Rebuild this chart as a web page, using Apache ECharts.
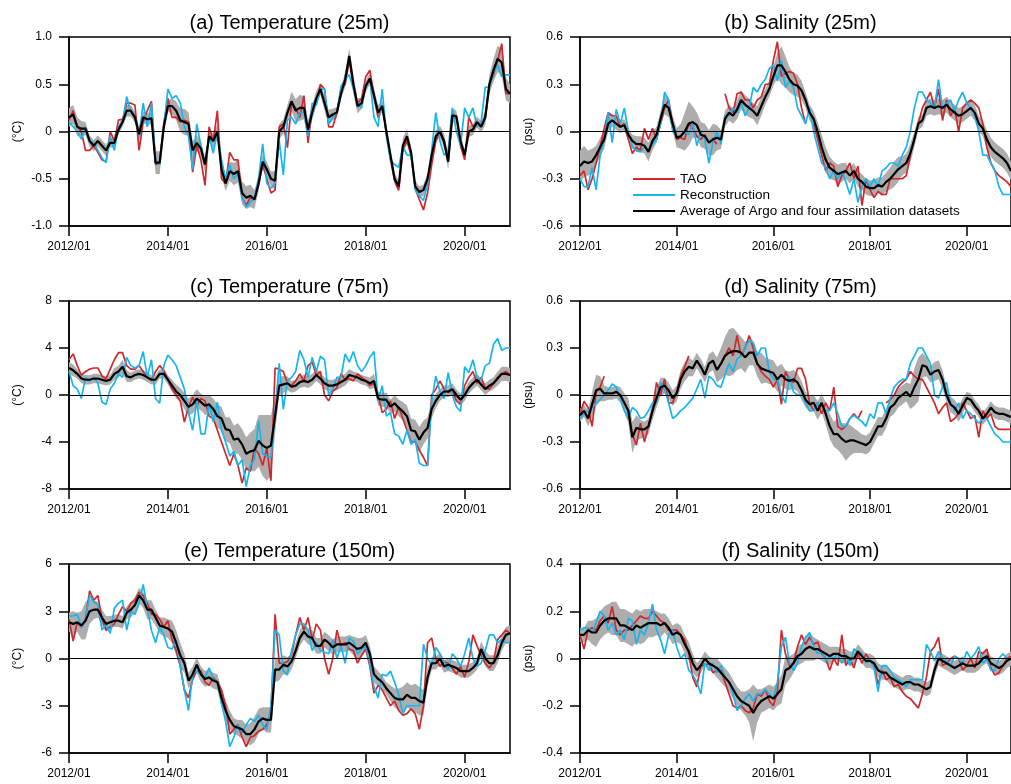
<!DOCTYPE html>
<html>
<head>
<meta charset="utf-8">
<title>TAO / Reconstruction / Argo comparison</title>
<script src="https://cdn.jsdelivr.net/npm/echarts@6.0.0/dist/echarts.min.js"></script>
<style>
  html, body { margin: 0; padding: 0; background: #fff; }
  #chart { width: 1011px; height: 784px; }
</style>
</head>
<body>
<div id="chart"></div>
<script>
  // monthly categories 2012/01 .. 2020/12
  const months = [];
  for (let y = 2012; y <= 2020; y++) {
    for (let m = 1; m <= 12; m++) months.push(y + '/' + (m < 10 ? '0' + m : m));
  }
  const tickLabels = ['2012/01', '2014/01', '2016/01', '2018/01', '2020/01'];

  const seriesNames = ['TAO', 'Reconstruction', 'Average of Argo and four assimilation datasets'];

  // (a) Temperature 25m
  const taoA = [
    0.12, 0.22, 0.05, 0.00, -0.20, -0.20, -0.15, -0.22, -0.30, -0.32, 0.00, -0.10,
    0.12, 0.13, 0.30, 0.30, 0.28, -0.20, 0.10, 0.22, 0.32, -0.35, -0.33, 0.08,
    0.35, 0.15, 0.15, 0.10, 0.12, 0.10, -0.43, -0.15, -0.30, -0.57, 0.05, -0.10,
    0.22, -0.50, -0.55, -0.22, -0.30, -0.30, -0.70, -0.78, -0.70, -0.72, -0.55, -0.35,
    -0.50, -0.65, -0.62, 0.05, 0.08, -0.17, 0.30, 0.25, 0.15, 0.38, -0.12, 0.25,
    0.30, 0.50, 0.45, 0.05, 0.05, 0.20, 0.45, 0.50, 0.75, 0.50, 0.30, 0.35,
    0.58, 0.65, 0.38, 0.15, 0.27, 0.00, -0.30, -0.52, -0.62, -0.20, -0.10, -0.25,
    -0.60, -0.72, -0.83, -0.65, -0.35, -0.10, 0.00, -0.12, -0.32, 0.15, 0.15, -0.15,
    -0.30, 0.15, 0.05, 0.10, 0.05, 0.15, 0.50, 0.60, 0.75, 0.93, 0.40, 0.40
  ];
  const reconA = [
    0.10, 0.05, 0.00, -0.08, 0.05, -0.10, -0.12, -0.20, -0.28, -0.33, -0.05, -0.20,
    0.05, 0.10, 0.37, 0.20, 0.15, -0.05, 0.30, 0.05, 0.30, -0.30, -0.35, 0.05,
    0.45, 0.35, 0.38, 0.30, 0.05, -0.05, -0.40, 0.08, -0.15, -0.35, -0.05, -0.23,
    0.00, -0.30, -0.50, -0.35, -0.50, -0.45, -0.70, -0.80, -0.75, -0.70, -0.50, -0.13,
    -0.55, -0.60, -0.55, -0.10, -0.46, 0.12, 0.15, 0.08, 0.20, 0.20, -0.05, 0.30,
    0.28, 0.45, 0.45, 0.08, 0.15, 0.20, 0.48, 0.55, 0.60, 0.45, 0.30, 0.25,
    0.50, 0.55, 0.15, 0.05, 0.45, -0.05, -0.30, -0.35, -0.38, -0.15, -0.25, -0.25,
    -0.62, -0.68, -0.73, -0.55, -0.20, 0.20, -0.10, -0.25, -0.20, 0.25, 0.00, -0.15,
    0.25, 0.15, 0.25, 0.05, 0.10, 0.47, 0.47, 0.62, 0.70, 0.58, 0.60, 0.60
  ];
  const avgA = [
    0.15, 0.18, 0.05, 0.03, 0.03, -0.10, -0.15, -0.10, -0.15, -0.20, -0.12, -0.12,
    0.02, 0.10, 0.22, 0.22, 0.15, -0.03, 0.15, 0.13, 0.14, -0.33, -0.33, 0.05,
    0.27, 0.27, 0.22, 0.12, 0.10, 0.08, -0.20, -0.12, -0.18, -0.35, -0.05, -0.10,
    0.00, -0.40, -0.55, -0.42, -0.45, -0.42, -0.65, -0.70, -0.68, -0.72, -0.55, -0.32,
    -0.40, -0.50, -0.52, 0.00, 0.05, 0.20, 0.32, 0.22, 0.25, 0.25, 0.02, 0.20,
    0.35, 0.45, 0.30, 0.15, 0.18, 0.20, 0.40, 0.55, 0.80, 0.50, 0.27, 0.30,
    0.48, 0.56, 0.38, 0.20, 0.27, 0.00, -0.25, -0.50, -0.58, -0.15, -0.05, -0.22,
    -0.58, -0.64, -0.62, -0.50, -0.25, -0.05, 0.00, -0.10, -0.32, 0.17, 0.16, -0.10,
    -0.25, 0.00, 0.02, 0.10, 0.05, 0.15, 0.50, 0.65, 0.77, 0.73, 0.45, 0.40
  ];
  const spreadA = [
    0.10, 0.10, 0.10, 0.08, 0.07, 0.06, 0.06, 0.06, 0.06, 0.06, 0.05, 0.05,
    0.05, 0.05, 0.06, 0.06, 0.06, 0.08, 0.06, 0.06, 0.06, 0.12, 0.12, 0.08,
    0.06, 0.08, 0.10, 0.12, 0.14, 0.12, 0.10, 0.08, 0.08, 0.08, 0.06, 0.08,
    0.08, 0.08, 0.08, 0.10, 0.12, 0.12, 0.12, 0.12, 0.12, 0.10, 0.08, 0.08,
    0.08, 0.08, 0.10, 0.08, 0.08, 0.08, 0.10, 0.12, 0.14, 0.12, 0.10, 0.08,
    0.08, 0.06, 0.08, 0.08, 0.06, 0.06, 0.06, 0.08, 0.08, 0.10, 0.08, 0.06,
    0.06, 0.06, 0.08, 0.08, 0.06, 0.06, 0.06, 0.06, 0.06, 0.08, 0.08, 0.06,
    0.06, 0.06, 0.06, 0.06, 0.06, 0.06, 0.06, 0.08, 0.08, 0.08, 0.06, 0.06,
    0.06, 0.06, 0.06, 0.06, 0.06, 0.08, 0.10, 0.12, 0.14, 0.14, 0.12, 0.10
  ];

  // (b) Salinity 25m
  const taoB = [
    -0.28, -0.25, -0.37, -0.30, -0.20, -0.10, 0.02, 0.12, 0.10, 0.10, 0.03, 0.05,
    -0.05, -0.14, -0.10, -0.12, 0.02, -0.05, 0.02, -0.05, 0.05, 0.15, 0.20, 0.05,
    -0.05, -0.04, -0.05, 0.05, 0.02, -0.03, -0.05, -0.02, -0.07, -0.05, -0.08, null,
    0.24, 0.15, 0.12, 0.24, 0.25, 0.20, 0.20, 0.15, 0.20, 0.22, 0.30, 0.30,
    0.45, 0.57, 0.35, 0.37, 0.38, 0.37, 0.30, 0.15, 0.05, null, 0.05, -0.05,
    -0.15, -0.25, -0.20, -0.22, -0.35, -0.28, -0.25, -0.20, -0.30, -0.22, -0.47, -0.30,
    -0.37, -0.42, -0.38, -0.40, -0.40, -0.30, -0.30, -0.30, -0.30, -0.28, -0.15, null,
    0.05, 0.15, 0.20, 0.25, 0.15, 0.27, 0.07, 0.20, 0.10, 0.15, 0.00, 0.15,
    0.18, 0.20, 0.18, 0.15, 0.05, -0.10, -0.20, -0.25, -0.28, -0.30, -0.32, -0.35
  ];
  const reconB = [
    -0.30, -0.35, -0.35, -0.23, -0.37, -0.15, -0.05, 0.12, -0.07, 0.14, 0.05, 0.15,
    0.00, -0.10, -0.12, -0.13, -0.10, -0.12, -0.08, -0.05, 0.05, 0.25, 0.20, 0.00,
    -0.03, -0.03, 0.00, -0.02, 0.05, -0.09, 0.00, -0.05, -0.20, -0.07, 0.00, -0.08,
    0.10, 0.10, 0.15, 0.12, 0.18, 0.10, 0.15, 0.28, 0.25, 0.30, 0.33, 0.40,
    0.42, 0.32, 0.45, 0.28, 0.32, 0.28, 0.15, 0.10, 0.05, 0.15, 0.00, -0.10,
    -0.20, -0.23, -0.30, -0.25, -0.30, -0.25, -0.32, -0.40, -0.30, -0.45, -0.35, -0.30,
    -0.35, -0.30, -0.35, -0.25, -0.23, -0.20, -0.20, -0.22, -0.15, -0.10, 0.00, 0.15,
    0.25, 0.25, 0.20, 0.18, 0.15, 0.33, 0.15, 0.18, 0.20, 0.13, 0.20, 0.25,
    0.18, 0.15, 0.10, 0.00, -0.15, -0.15, -0.20, -0.25, -0.35, -0.40, -0.40, -0.40
  ];
  const avgB = [
    -0.22, -0.19, -0.20, -0.19, -0.15, -0.10, -0.05, 0.05, 0.07, 0.05, 0.03, 0.04,
    -0.02, -0.06, -0.08, -0.08, -0.09, -0.13, -0.06, -0.02, 0.08, 0.17, 0.15, 0.05,
    -0.04, -0.03, 0.00, 0.05, 0.06, 0.04, -0.02, -0.03, -0.07, -0.05, -0.04, -0.05,
    0.08, 0.12, 0.10, 0.14, 0.20, 0.17, 0.15, 0.13, 0.10, 0.16, 0.22, 0.27,
    0.35, 0.42, 0.42, 0.38, 0.33, 0.30, 0.29, 0.26, 0.20, 0.12, 0.08, 0.00,
    -0.10, -0.18, -0.23, -0.25, -0.27, -0.26, -0.25, -0.28, -0.25, -0.30, -0.32, -0.35,
    -0.36, -0.36, -0.34, -0.35, -0.32, -0.30, -0.27, -0.24, -0.22, -0.20, -0.14, -0.05,
    0.05, 0.07, 0.15, 0.16, 0.15, 0.16, 0.15, 0.17, 0.14, 0.12, 0.10, 0.11,
    0.13, 0.15, 0.12, 0.05, 0.02, -0.05, -0.10, -0.13, -0.15, -0.17, -0.20, -0.25
  ];
  const spreadB = [
    0.10, 0.10, 0.08, 0.08, 0.06, 0.06, 0.06, 0.05, 0.04, 0.04, 0.04, 0.04,
    0.04, 0.04, 0.05, 0.05, 0.05, 0.06, 0.06, 0.05, 0.05, 0.06, 0.06, 0.05,
    0.06, 0.08, 0.12, 0.14, 0.10, 0.08, 0.08, 0.08, 0.08, 0.10, 0.08, 0.06,
    0.05, 0.05, 0.05, 0.06, 0.06, 0.06, 0.06, 0.05, 0.06, 0.06, 0.05, 0.05,
    0.06, 0.08, 0.12, 0.10, 0.08, 0.07, 0.07, 0.06, 0.05, 0.05, 0.05, 0.06,
    0.08, 0.08, 0.07, 0.06, 0.06, 0.06, 0.05, 0.05, 0.05, 0.05, 0.05, 0.05,
    0.05, 0.05, 0.05, 0.06, 0.06, 0.07, 0.08, 0.08, 0.06, 0.06, 0.06, 0.05,
    0.04, 0.04, 0.05, 0.05, 0.05, 0.05, 0.05, 0.05, 0.05, 0.05, 0.05, 0.05,
    0.05, 0.05, 0.05, 0.05, 0.05, 0.06, 0.06, 0.06, 0.06, 0.06, 0.06, 0.06
  ];

  // (c) Temperature 75m
  const taoC = [
    3.0, 3.5, 2.5, 1.7, 2.0, 2.2, 2.3, 2.3, 1.6, 1.4, 2.2, 3.0,
    3.6, 3.6, 2.5, 2.2, 2.2, 2.5, 2.0, 1.5, 1.3, 2.0, 2.5, 2.1,
    1.3, 0.5, 0.0, -0.5, -2.3, -1.0, -0.2, -0.9, -0.3, -0.5, -1.8, -2.0,
    -3.0, -4.0, -5.0, -6.0, -5.0, -6.0, -7.5, -6.2, -6.5, -4.5, -5.0, -6.0,
    -4.5, -7.3, 2.3, 2.2, 2.0, 1.0, 0.8, 1.2, 1.8, 1.2, 2.5, 2.8,
    1.7, 2.0, 0.0, -0.5, 0.3, 0.6, 1.8, 1.3, 1.4, 1.2, 1.8, 1.5,
    1.2, 0.8, 1.0, 0.0, -1.5, -1.2, -0.5, -2.0, -1.0, -2.0, -3.0, -4.0,
    -4.0, -4.7, -5.3, -6.0, 0.0, 0.5, 1.2, 0.5, 0.2, 0.4, -0.5, -0.8,
    0.8, 1.5, 2.0, 1.0, 1.5, 0.6, 0.5, 1.0, 1.5, 1.8, 2.0, 1.7
  ];
  const reconC = [
    2.0, 0.8, 0.5, -0.3, 1.5, 1.2, 1.5, 1.0, -0.6, -0.8, 0.5, 1.0,
    1.8, 1.5, 3.2, 2.5, 2.3, 2.5, 3.7, 1.5, 3.0, -0.3, -0.7, 2.5,
    3.4, 3.0, 2.5, 1.5, 0.5, -1.5, -3.0, -0.5, -3.3, -3.3, -0.7, -2.3,
    -0.6, -3.0, -4.0, -5.2, -4.8, -6.0, -5.5, -7.8, -6.0, -5.5, -2.2, -5.0,
    -5.2, -5.3, -1.5, 2.7, -1.2, 1.2, 1.5, 2.0, 3.8, 3.0, 1.5, 3.2,
    2.0, 3.3, 3.0, 0.0, 0.5, 1.5, 1.5, 3.5, 2.8, 3.7, 2.5, 2.0,
    2.5, 3.2, 3.7, -0.5, 0.8, -1.8, -1.5, -3.3, -3.5, -4.2, -3.0, -4.2,
    -3.8, -5.8, -6.0, -6.0, -0.5, 1.6, 0.3, -0.3, 1.9, 0.0, -1.0, -1.4,
    2.4, 1.9, 3.0, 1.5, 1.3, 2.5, 2.7, 4.3, 4.8, 3.8, 4.0, 4.0
  ];
  const avgC = [
    2.3, 2.1, 1.8, 1.4, 1.3, 1.3, 1.4, 1.4, 1.3, 1.2, 1.3, 1.8,
    2.0, 2.4, 1.6, 1.5, 1.7, 1.8, 1.7, 1.5, 1.3, 1.3, 1.8, 1.8,
    1.3, 0.8, 0.3, 0.0, -0.5, -1.0, -0.8, -0.3, -0.6, -0.9, -0.8, -1.2,
    -1.8, -2.0, -2.9, -3.0, -3.8, -3.7, -4.2, -5.0, -4.8, -4.7, -3.9, -4.3,
    -4.5, -4.3, -1.8, 0.8, 0.9, 1.0, 0.7, 0.8, 1.1, 1.2, 1.1, 1.3,
    1.7, 1.4, 1.0, 0.8, 0.8, 0.9, 1.1, 1.3, 1.7, 1.6, 1.5, 1.3,
    1.2, 1.0, 1.2, -0.3, -0.4, -0.4, -1.0, -0.7, -1.1, -1.4, -1.8, -3.0,
    -3.1, -3.8, -3.2, -2.8, -1.2, -0.5, 0.0, 0.3, 0.3, 0.5, 0.0, -0.4,
    0.0, 0.6, 1.0, 1.3, 0.9, 0.5, 0.8, 1.0, 1.4, 1.8, 1.8, 1.7
  ];
  const spreadC = [
    0.5, 0.5, 0.4, 0.4, 0.4, 0.4, 0.4, 0.4, 0.4, 0.4, 0.4, 0.5,
    0.5, 0.6, 0.5, 0.4, 0.4, 0.4, 0.4, 0.4, 0.4, 0.4, 0.4, 0.4,
    0.4, 0.5, 0.6, 0.6, 0.7, 0.7, 0.8, 0.8, 0.7, 0.8, 0.8, 0.9,
    1.0, 1.0, 1.0, 1.1, 1.2, 1.3, 1.3, 1.4, 1.6, 1.8, 2.2, 2.6,
    2.8, 2.6, 1.5, 0.8, 0.7, 0.6, 0.5, 0.5, 0.5, 0.5, 0.5, 0.5,
    0.5, 0.5, 0.5, 0.5, 0.5, 0.5, 0.5, 0.5, 0.5, 0.4, 0.4, 0.4,
    0.4, 0.5, 0.6, 0.6, 0.6, 0.6, 0.6, 0.7, 0.7, 0.8, 0.9, 1.0,
    1.0, 1.1, 1.0, 0.9, 0.8, 0.6, 0.5, 0.5, 0.5, 0.5, 0.5, 0.5,
    0.5, 0.5, 0.5, 0.5, 0.5, 0.5, 0.5, 0.5, 0.6, 0.6, 0.6, 0.6
  ];

  // (d) Salinity 75m
  const taoD = [
    -0.12, -0.04, -0.08, -0.20, 0.02, 0.05, 0.12, null, null, null, null, null,
    -0.10, -0.25, -0.32, -0.18, -0.30, -0.20, -0.10, 0.08, 0.00, 0.10, -0.05, -0.05,
    0.02, 0.12, 0.18, 0.25, null, null, null, null, null, null, null, 0.20,
    0.25, 0.30, 0.25, 0.38, 0.25, 0.30, 0.38, 0.30, 0.20, 0.15, 0.12, 0.10,
    0.05, 0.10, -0.06, 0.15, 0.10, 0.08, 0.17, 0.17, 0.10, -0.05, -0.10, -0.05,
    -0.12, -0.05, -0.10, 0.05, -0.20, -0.22, -0.20, -0.15, -0.12, -0.15, -0.10, null,
    null, null, null, null, -0.05, -0.03, 0.00, 0.05, 0.08, 0.10, 0.15, 0.12,
    0.10, 0.10, 0.05, 0.00, -0.05, -0.12, -0.08, -0.05, -0.17, -0.15, -0.12, -0.05,
    -0.10, -0.15, -0.13, -0.27, -0.10, -0.15, -0.12, -0.20, -0.22, -0.22, -0.22, -0.22
  ];
  const reconD = [
    -0.15, -0.12, -0.10, -0.08, -0.05, -0.03, 0.00, 0.03, 0.07, 0.05, -0.02, -0.10,
    -0.15, -0.08, -0.10, -0.15, -0.14, -0.10, -0.05, -0.05, 0.08, 0.04, -0.05, -0.15,
    -0.13, -0.10, -0.08, -0.05, -0.02, 0.04, 0.10, -0.02, 0.12, 0.10, 0.06, 0.05,
    0.13, 0.20, 0.15, 0.23, 0.25, 0.30, 0.35, 0.33, 0.25, 0.30, 0.30, 0.15,
    0.10, 0.10, 0.00, -0.05, 0.12, 0.02, 0.00, 0.00, -0.05, -0.10, -0.10, -0.05,
    -0.07, -0.10, -0.10, -0.05, -0.12, -0.20, -0.20, -0.15, -0.13, -0.15, -0.17, -0.20,
    -0.12, -0.15, -0.05, -0.05, -0.12, -0.02, 0.05, 0.08, 0.10, 0.10, 0.20, 0.25,
    0.30, 0.30, 0.25, 0.20, 0.00, -0.02, 0.05, 0.08, -0.05, -0.10, -0.05, -0.15,
    -0.10, -0.12, -0.15, -0.18, -0.15, -0.15, -0.20, -0.25, -0.27, -0.30, -0.30, -0.30
  ];
  const avgD = [
    -0.13, -0.10, -0.15, -0.06, 0.03, 0.04, 0.01, 0.01, 0.01, 0.02, 0.00, -0.05,
    -0.10, -0.27, -0.21, -0.22, -0.22, -0.20, -0.10, -0.02, 0.05, 0.06, 0.03, -0.02,
    0.01, 0.10, 0.15, 0.18, 0.17, 0.22, 0.18, 0.13, 0.20, 0.22, 0.16, 0.20,
    0.25, 0.27, 0.28, 0.28, 0.27, 0.24, 0.27, 0.27, 0.20, 0.17, 0.16, 0.15,
    0.14, 0.10, 0.13, 0.10, 0.09, 0.10, 0.08, 0.03, -0.03, -0.06, -0.05, -0.10,
    -0.05, -0.12, -0.20, -0.25, -0.25, -0.28, -0.30, -0.29, -0.29, -0.30, -0.31, -0.32,
    -0.30, -0.25, -0.20, -0.20, -0.15, -0.08, -0.06, -0.02, 0.00, 0.02, -0.01, 0.05,
    0.10, 0.19, 0.18, 0.13, 0.15, 0.16, 0.10, 0.00, -0.06, -0.08, -0.12, -0.07,
    -0.02, -0.03, -0.07, -0.10, -0.15, -0.12, -0.08, -0.11, -0.12, -0.12, -0.13, -0.14
  ];
  const spreadD = [
    0.04, 0.04, 0.05, 0.08, 0.10, 0.08, 0.05, 0.04, 0.04, 0.04, 0.05, 0.06,
    0.08, 0.10, 0.08, 0.06, 0.05, 0.05, 0.06, 0.06, 0.06, 0.05, 0.05, 0.05,
    0.05, 0.06, 0.06, 0.06, 0.05, 0.05, 0.05, 0.05, 0.06, 0.06, 0.08, 0.10,
    0.12, 0.15, 0.15, 0.12, 0.10, 0.10, 0.08, 0.08, 0.08, 0.10, 0.08, 0.08,
    0.08, 0.08, 0.07, 0.06, 0.06, 0.06, 0.06, 0.06, 0.05, 0.05, 0.05, 0.06,
    0.06, 0.07, 0.08, 0.08, 0.10, 0.10, 0.12, 0.10, 0.08, 0.07, 0.06, 0.06,
    0.06, 0.06, 0.06, 0.06, 0.06, 0.06, 0.06, 0.06, 0.06, 0.06, 0.08, 0.12,
    0.14, 0.08, 0.06, 0.05, 0.06, 0.06, 0.06, 0.05, 0.05, 0.05, 0.05, 0.05,
    0.04, 0.04, 0.04, 0.04, 0.04, 0.04, 0.04, 0.04, 0.04, 0.04, 0.04, 0.04
  ];

  // (e) Temperature 150m
  const taoE = [
    2.5, 1.1, 2.3, 2.0, 2.5, 4.3, 3.7, 4.0, 2.5, 1.8, 2.0, 2.2,
    2.8, 3.3, 3.0, 3.5, 3.7, 4.2, 4.0, 3.5, 2.8, 2.8, 2.5, 2.0,
    2.4, 1.2, 0.5, -0.5, -2.0, -2.5, -1.3, -0.8, -0.8, -1.5, -1.7, -1.2,
    -1.5, -2.0, -3.0, -4.8, -4.5, -4.2, -5.0, -5.6, -5.0, -4.9, -4.6, -4.5,
    -4.2, -3.5, 2.8, -0.3, -0.3, -0.2, 0.3, 1.5, 2.6, 1.8, 2.6, 1.2,
    2.2, 1.8, 0.0, -1.0, 0.0, 1.8, 0.8, 1.0, 0.6, 0.5, -0.3, 0.2,
    0.6, -0.5, -2.2, -1.7, -2.0, -2.5, -3.0, -2.7, -3.3, -3.6, -3.5, -3.2,
    -3.5, -4.5, -3.0, 1.0, 1.3, 0.0, -0.5, -0.2, -0.3, -0.6, -1.0, -0.5,
    -1.2, -0.2, 1.5, 0.8, 0.2, -0.3, -0.6, -0.2, 1.2, 1.5, 1.8, 1.6
  ];
  const reconE = [
    2.7, 2.7, 2.8, 2.0, 2.5, 4.0, 3.6, 3.4, 1.8, 2.2, 1.6, 3.2,
    3.5, 3.7, 1.8, 3.0, 2.8, 3.5, 4.7, 3.2, 1.8, 1.0, 2.0, 1.5,
    0.7, 0.6, 1.2, -0.5, -2.0, -3.3, -1.0, -0.8, -1.0, -1.2, -0.6, -1.3,
    -1.5, -2.8, -4.0, -5.6, -5.0, -4.2, -4.7, -4.2, -3.8, -4.0, -3.6, -4.2,
    -4.5, -3.0, 1.8, 1.5, -0.8, -1.0, 0.5, 1.5, 2.2, 2.2, 1.8, 0.5,
    1.0, 0.5, 0.4, 0.3, 1.2, 0.0, 0.8, -0.3, 1.3, 1.1, 0.3, 0.6,
    0.8, -0.3, -1.8, -2.5, -1.0, -1.1, -0.8, -1.5, -2.3, -3.5, -3.0, -3.0,
    -3.0, -3.0, 0.9, 0.0, -0.4, 0.7, 0.3, -0.2, -0.7, 0.3, 0.0, -0.5,
    0.3, 1.3, 0.0, -0.5, -0.3, 0.5, 1.5, 1.5, 1.0, 1.2, 1.0, 1.0
  ];
  const avgE = [
    2.3, 2.2, 2.3, 2.1, 2.4, 3.0, 3.1, 3.1, 2.6, 2.2, 2.3, 2.4,
    2.4, 2.3, 2.9, 3.1, 3.4, 4.0, 3.7, 3.1, 3.1, 2.6, 2.1, 2.0,
    1.9, 1.7, 1.0, 0.2, -0.3, -1.4, -1.0, -0.4, -1.0, -1.3, -1.2, -1.4,
    -1.5, -2.5, -3.3, -3.9, -4.3, -4.4, -4.5, -4.8, -4.8, -4.5, -4.0, -3.8,
    -3.9, -3.9, -0.7, -0.7, -0.4, -0.5, -0.2, 0.5, 1.3, 1.7, 1.4, 1.3,
    0.8, 0.8, 1.2, 1.0, 0.7, 0.9, 0.9, 0.9, 1.0, 0.8, 0.6, 0.7,
    1.0, 0.3, -1.0, -1.3, -1.5, -1.9, -2.2, -2.5, -2.6, -2.6, -2.3, -2.5,
    -2.5, -2.7, -2.8, -1.2, -0.3, -0.3, 0.0, -0.5, -0.4, -0.5, -0.6, -0.8,
    -0.8, -0.8, -0.6, -0.3, 0.6, 0.0, -0.3, -0.3, 0.2, 1.0, 1.5, 1.6
  ];
  const spreadE = [
    0.6, 0.8, 0.6, 0.9, 1.2, 0.8, 0.6, 0.5, 0.5, 0.5, 0.4, 0.4,
    0.4, 0.4, 0.4, 0.5, 0.5, 0.5, 0.5, 0.6, 0.6, 0.5, 0.5, 0.6,
    0.6, 0.7, 0.8, 0.8, 0.6, 0.5, 0.5, 0.5, 0.5, 0.5, 0.5, 0.5,
    0.5, 0.6, 0.6, 0.6, 0.5, 0.5, 0.6, 0.6, 0.7, 0.8, 0.8, 0.7,
    0.8, 0.8, 0.8, 0.7, 0.6, 0.6, 0.5, 0.5, 0.5, 0.5, 0.5, 0.5,
    0.5, 0.5, 0.5, 0.5, 0.5, 0.5, 0.5, 0.5, 0.5, 0.6, 0.7, 0.6,
    0.5, 0.5, 0.5, 0.5, 0.4, 0.4, 0.5, 0.6, 0.7, 0.8, 0.8, 0.8,
    0.9, 0.9, 0.8, 0.6, 0.4, 0.4, 0.4, 0.4, 0.4, 0.4, 0.4, 0.4,
    0.4, 0.4, 0.4, 0.4, 0.5, 0.5, 0.5, 0.5, 0.5, 0.5, 0.5, 0.5
  ];

  // (f) Salinity 150m
  const taoF = [
    0.10, 0.04, 0.12, 0.13, 0.12, 0.16, 0.18, 0.15, 0.22, 0.12, 0.10, 0.12,
    0.12, 0.14, 0.16, 0.18, 0.17, 0.17, 0.20, 0.18, 0.16, 0.15, 0.12, 0.12,
    0.12, 0.10, 0.08, 0.02, -0.08, -0.12, -0.03, -0.03, -0.02, -0.06, -0.05, -0.05,
    -0.10, -0.15, -0.20, -0.21, -0.20, -0.22, -0.23, -0.21, -0.15, -0.16, -0.13, -0.18,
    -0.20, -0.14, 0.12, 0.02, -0.03, -0.02, 0.05, 0.10, 0.06, 0.09, 0.06, 0.07,
    0.02, 0.00, -0.05, 0.00, -0.03, 0.10, -0.03, 0.00, -0.04, 0.02, -0.02, 0.02,
    -0.01, -0.03, -0.11, -0.05, -0.09, -0.08, -0.12, -0.11, -0.14, -0.16, -0.17, -0.19,
    -0.21, -0.15, -0.08, 0.03, 0.05, 0.09, -0.03, -0.02, 0.00, 0.01, 0.00, -0.05,
    -0.03, 0.00, -0.04, 0.03, 0.02, 0.04, -0.04, -0.07, -0.06, -0.03, 0.00, 0.01
  ];
  const reconF = [
    0.12, 0.13, 0.13, 0.11, 0.15, 0.20, 0.18, 0.12, 0.15, 0.10, 0.12, 0.08,
    0.17, 0.16, 0.06, 0.12, 0.10, 0.15, 0.23, 0.12, 0.08, 0.02, 0.10, 0.12,
    0.05, 0.00, 0.02, -0.05, -0.07, -0.10, -0.15, -0.02, -0.05, -0.02, -0.06, -0.03,
    -0.08, -0.10, -0.15, -0.22, -0.20, -0.17, -0.15, -0.18, -0.15, -0.15, -0.13, -0.15,
    -0.17, -0.10, 0.05, 0.09, -0.02, -0.05, -0.02, 0.05, 0.09, 0.11, 0.05, 0.02,
    0.03, -0.01, 0.01, 0.00, 0.02, -0.02, 0.02, -0.03, 0.04, 0.03, 0.02, -0.02,
    0.00, -0.04, -0.14, -0.03, -0.03, -0.05, -0.08, -0.09, -0.10, -0.12, -0.09, -0.09,
    -0.09, -0.09, 0.06, 0.03, -0.01, 0.03, 0.00, -0.01, -0.03, 0.01, 0.00, -0.02,
    0.03, 0.00, 0.02, 0.05, -0.02, 0.00, -0.05, -0.05, 0.00, 0.02, 0.00, 0.00
  ];
  const avgF = [
    0.10, 0.10, 0.12, 0.11, 0.11, 0.14, 0.16, 0.17, 0.17, 0.17, 0.14, 0.14,
    0.13, 0.12, 0.14, 0.13, 0.14, 0.15, 0.15, 0.15, 0.14, 0.15, 0.13, 0.10,
    0.11, 0.10, 0.06, 0.03, -0.02, -0.05, -0.03, 0.00, -0.02, -0.03, -0.04, -0.06,
    -0.08, -0.10, -0.13, -0.16, -0.18, -0.19, -0.20, -0.23, -0.20, -0.18, -0.17, -0.16,
    -0.17, -0.15, -0.13, -0.05, -0.04, -0.02, 0.01, 0.02, 0.04, 0.05, 0.04, 0.04,
    0.03, 0.02, 0.01, 0.02, 0.02, 0.01, 0.01, 0.00, 0.00, 0.03, 0.01, -0.01,
    -0.01, -0.02, -0.05, -0.06, -0.06, -0.08, -0.09, -0.10, -0.11, -0.10, -0.10, -0.11,
    -0.11, -0.12, -0.13, -0.12, -0.05, 0.00, -0.01, -0.02, -0.03, -0.04, -0.03, -0.02,
    -0.03, -0.03, -0.03, -0.02, 0.00, 0.01, -0.02, -0.03, -0.04, -0.03, -0.01, 0.00
  ];
  const spreadF = [
    0.03, 0.03, 0.04, 0.05, 0.06, 0.06, 0.06, 0.06, 0.07, 0.07, 0.07, 0.07,
    0.07, 0.07, 0.07, 0.07, 0.07, 0.06, 0.06, 0.05, 0.05, 0.04, 0.04, 0.04,
    0.04, 0.04, 0.04, 0.04, 0.04, 0.03, 0.03, 0.03, 0.03, 0.03, 0.04, 0.04,
    0.04, 0.04, 0.04, 0.04, 0.04, 0.05, 0.07, 0.12, 0.07, 0.05, 0.05, 0.05,
    0.05, 0.05, 0.06, 0.06, 0.05, 0.04, 0.04, 0.04, 0.05, 0.06, 0.05, 0.04,
    0.04, 0.04, 0.04, 0.03, 0.03, 0.03, 0.03, 0.03, 0.03, 0.03, 0.03, 0.03,
    0.03, 0.03, 0.03, 0.03, 0.03, 0.03, 0.03, 0.03, 0.03, 0.03, 0.03, 0.03,
    0.03, 0.03, 0.03, 0.03, 0.03, 0.03, 0.03, 0.03, 0.03, 0.03, 0.03, 0.03,
    0.03, 0.03, 0.03, 0.03, 0.03, 0.03, 0.03, 0.03, 0.03, 0.03, 0.03, 0.03
  ];

  const panelTitles = ['(a) Temperature (25m)', '(b) Salinity (25m)', '(c) Temperature (75m)',
                       '(d) Salinity (75m)', '(e) Temperature (150m)', '(f) Salinity (150m)'];
  const yUnits = ['(\u00B0C)', '(psu)', '(\u00B0C)', '(psu)', '(\u00B0C)', '(psu)'];
  const yMin = [-1, -0.6, -8, -0.6, -6, -0.4];
  const yMax = [1, 0.6, 8, 0.6, 6, 0.4];
  const yStep = [0.5, 0.3, 4, 0.3, 3, 0.2];

  const taoAll = [taoA, taoB, taoC, taoD, taoE, taoF];
  const reconAll = [reconA, reconB, reconC, reconD, reconE, reconF];
  const avgAll = [avgA, avgB, avgC, avgD, avgE, avgF];
  const spreadAll = [spreadA, spreadB, spreadC, spreadD, spreadE, spreadF];

  // layout
  const colLeft = [69, 580];
  const rowTop = [37, 301, 564];
  const rowHeight = [189, 188, 189];
  const plotWidth = 441;
  const titleTop = [13, 277, 541];
  const font = '"Liberation Sans", Arial, Helvetica, sans-serif';

  const chart = echarts.init(document.getElementById('chart'));

  const grids = [], xAxes = [], yAxes = [], titles = [], series = [];

  for (let p = 0; p < 6; p++) {
    const row = Math.floor(p / 2), col = p % 2;
    grids.push({
      left: colLeft[col], top: rowTop[row], width: plotWidth, height: rowHeight[row],
      show: true, borderColor: '#000', borderWidth: 1.5, backgroundColor: 'transparent'
    });
    titles.push({
      text: panelTitles[p],
      left: colLeft[col] + plotWidth / 2,
      textAlign: 'center',
      top: titleTop[row],
      padding: 0,
      textStyle: { fontFamily: font, fontSize: 20, fontWeight: 'normal', color: '#000' }
    });
    xAxes.push({
      type: 'category', gridIndex: p, data: months, boundaryGap: false,
      axisLine: { onZero: false, lineStyle: { color: '#000', width: 1.5 } },
      axisTick: { show: true, length: 10, lineStyle: { color: '#000', width: 1.5 },
                  interval: (i, v) => tickLabels.indexOf(v) >= 0 },
      axisLabel: { interval: (i, v) => tickLabels.indexOf(v) >= 0, margin: 15,
                   fontFamily: font, fontSize: 12, color: '#000' },
      splitLine: { show: false }
    });
    const step = yStep[p];
    yAxes.push({
      type: 'value', gridIndex: p, min: yMin[p], max: yMax[p], interval: step,
      name: yUnits[p], nameLocation: 'middle', nameRotate: 90, nameGap: 45,
      nameTextStyle: { fontFamily: font, fontSize: 12, color: '#000' },
      axisLine: { show: true, onZero: false, lineStyle: { color: '#000', width: 1.5 } },
      axisTick: { show: true, length: 10, lineStyle: { color: '#000', width: 1.5 } },
      axisLabel: {
        margin: 17, fontFamily: font, fontSize: 12, color: '#000',
        formatter: v => Math.abs(v) < 1e-9 ? '0' : (Number.isInteger(step) ? String(Math.round(v)) : v.toFixed(1))
      },
      splitLine: { show: false }
    });

    const avg = avgAll[p], spread = spreadAll[p];
    const lower = avg.map((v, i) => +(v - spread[i]).toFixed(3));
    const width = spread.map(s => +(2 * s).toFixed(3));
    const stackKey = 'band' + p;

    series.push({
      name: 'range-low-' + p, type: 'line', xAxisIndex: p, yAxisIndex: p,
      data: lower, stack: stackKey, stackStrategy: 'all', symbol: 'none', silent: true,
      lineStyle: { opacity: 0 }, z: 1,
      markLine: {
        silent: true, symbol: 'none', label: { show: false },
        lineStyle: { color: '#000', width: 1, type: 'solid' },
        data: [{ yAxis: 0 }]
      }
    });
    series.push({
      name: 'range-' + p, type: 'line', xAxisIndex: p, yAxisIndex: p,
      data: width, stack: stackKey, stackStrategy: 'all', symbol: 'none', silent: true,
      lineStyle: { opacity: 0 }, areaStyle: { color: '#adadad', opacity: 1 }, z: 1
    });
    series.push({
      name: seriesNames[0], type: 'line', xAxisIndex: p, yAxisIndex: p,
      data: taoAll[p], symbol: 'none', connectNulls: false,
      lineStyle: { color: '#d0282c', width: 1.7 }, itemStyle: { color: '#d0282c' }, z: 3
    });
    series.push({
      name: seriesNames[1], type: 'line', xAxisIndex: p, yAxisIndex: p,
      data: reconAll[p], symbol: 'none',
      lineStyle: { color: '#17b5ee', width: 1.7 }, itemStyle: { color: '#17b5ee' }, z: 4
    });
    series.push({
      name: seriesNames[2], type: 'line', xAxisIndex: p, yAxisIndex: p,
      data: avg, symbol: 'none',
      lineStyle: { color: '#000', width: 2.2 }, itemStyle: { color: '#000' }, z: 5
    });
  }

  chart.setOption({
    animation: false,
    backgroundColor: '#fff',
    title: titles,
    grid: grids,
    xAxis: xAxes,
    yAxis: yAxes,
    legend: {
      data: seriesNames,
      orient: 'vertical',
      left: 633, top: 171,
      icon: 'rect',
      itemWidth: 42, itemHeight: 2, itemGap: 0,
      padding: 0,
      textStyle: { fontFamily: font, fontSize: 13.5, color: '#000', lineHeight: 16 }
    },
    series: series
  });
</script>
</body>
</html>
